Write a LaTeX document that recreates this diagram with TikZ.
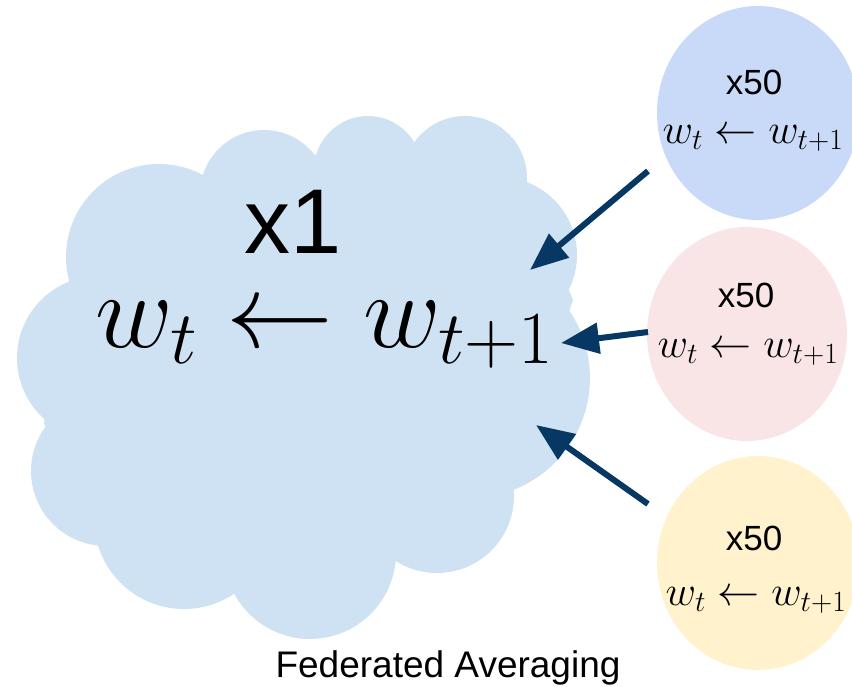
\RequirePackage{fix-cm}
\documentclass[tikz,border=0pt]{standalone}
\usepackage{amsmath}
\usepackage{fontspec}
\newfontfamily\arialfont{Liberation Sans}
\usepackage{tikz}
\usetikzlibrary{
  arrows.meta,      % Triangle 箭头
  shapes.geometric  % 椭圆节点
}
\definecolor{cloudblue}{HTML}{CFE2F3}
\definecolor{workerblue}{HTML}{C9DAF8}
\definecolor{workerpink}{HTML}{F9E5E5}
\definecolor{workeryellow}{HTML}{FFF2CC}
\definecolor{arrowblue}{HTML}{073763}

\begin{document}
\begin{tikzpicture}[>=Stealth, x=1pt, y=-1pt,
  worker/.style={ellipse, inner sep=0pt, minimum width=202pt, minimum height=214pt},
  push/.style={draw=arrowblue, line width=6pt, -{Triangle[length=38pt, width=30pt]}},
  label/.style={inner sep=0pt, anchor=base},
  count/.style={label, text depth=0pt}]
  \useasboundingbox (0,0) rectangle (852,686);

  % 服务器端的云（若干圆叠加）
  \fill[cloudblue] (69,291) -- (203,176) -- (316,155) -- (413,144) -- (525,182)
    -- (573,300) -- (513,480) -- (397,559) -- (236,590) -- (94,544) -- (44,423) -- cycle;
  \foreach \cx/\cy/\r in {159/257/93, 264/194/64, 368/170/54, 465/178/62,
    499/255/78, 470/378/120, 437/496/77, 310/553/86, 184/519/90, 106/471/75, 99/358/82}
    \fill[cloudblue] (\cx,\cy) circle (\r);

  % 三个客户端
  \node[worker, fill=workerblue] (blue) at (758,113) {};
  \node[worker, fill=workerpink, minimum width=200pt] (pink) at (747,334) {};
  \node[worker, fill=workeryellow] (yellow) at (758,563) {};

  % 上传箭头
  \coordinate (blueout) at (648,171);
  \coordinate (pinkout) at (648,332);
  \coordinate (yellowout) at (648,504);
  \coordinate (cloudin1) at (530,270);
  \coordinate (cloudin2) at (561,343);
  \coordinate (cloudin3) at (536,425);
  \draw[push] (blueout) -- (cloudin1);
  \draw[push] (pinkout) -- (cloudin2);
  \draw[push] (yellowout) -- (cloudin3);

  % 文字
  \node[count, font=\arialfont\fontsize{92}{110}\selectfont] (cloudcount) at (293,253) {x1};
  \node[label, font=\fontsize{107}{128}\selectfont] (cloudrule) at (324.5,347) {$w_t \leftarrow w_{t+1}$};

  \node[count, font=\arialfont\fontsize{35}{42}\selectfont] (bluecount) at (754,94) {x50};
  \node[label, font=\fontsize{42}{50}\selectfont] (bluerule) at (753,143) {$w_t \leftarrow w_{t+1}$};
  \node[count, font=\arialfont\fontsize{35}{42}\selectfont] (pinkcount) at (746,307) {x50};
  \node[label, font=\fontsize{42}{50}\selectfont] (pinkrule) at (748,357) {$w_t \leftarrow w_{t+1}$};
  \node[count, font=\arialfont\fontsize{35}{42}\selectfont] (yellowcount) at (754,550) {x50};
  \node[label, font=\fontsize{42}{50}\selectfont] (yellowrule) at (756,605) {$w_t \leftarrow w_{t+1}$};

  \node[label, font=\arialfont\fontsize{37}{44}\selectfont] (title) at (448,677) {Federated Averaging};
\end{tikzpicture}
\end{document}
